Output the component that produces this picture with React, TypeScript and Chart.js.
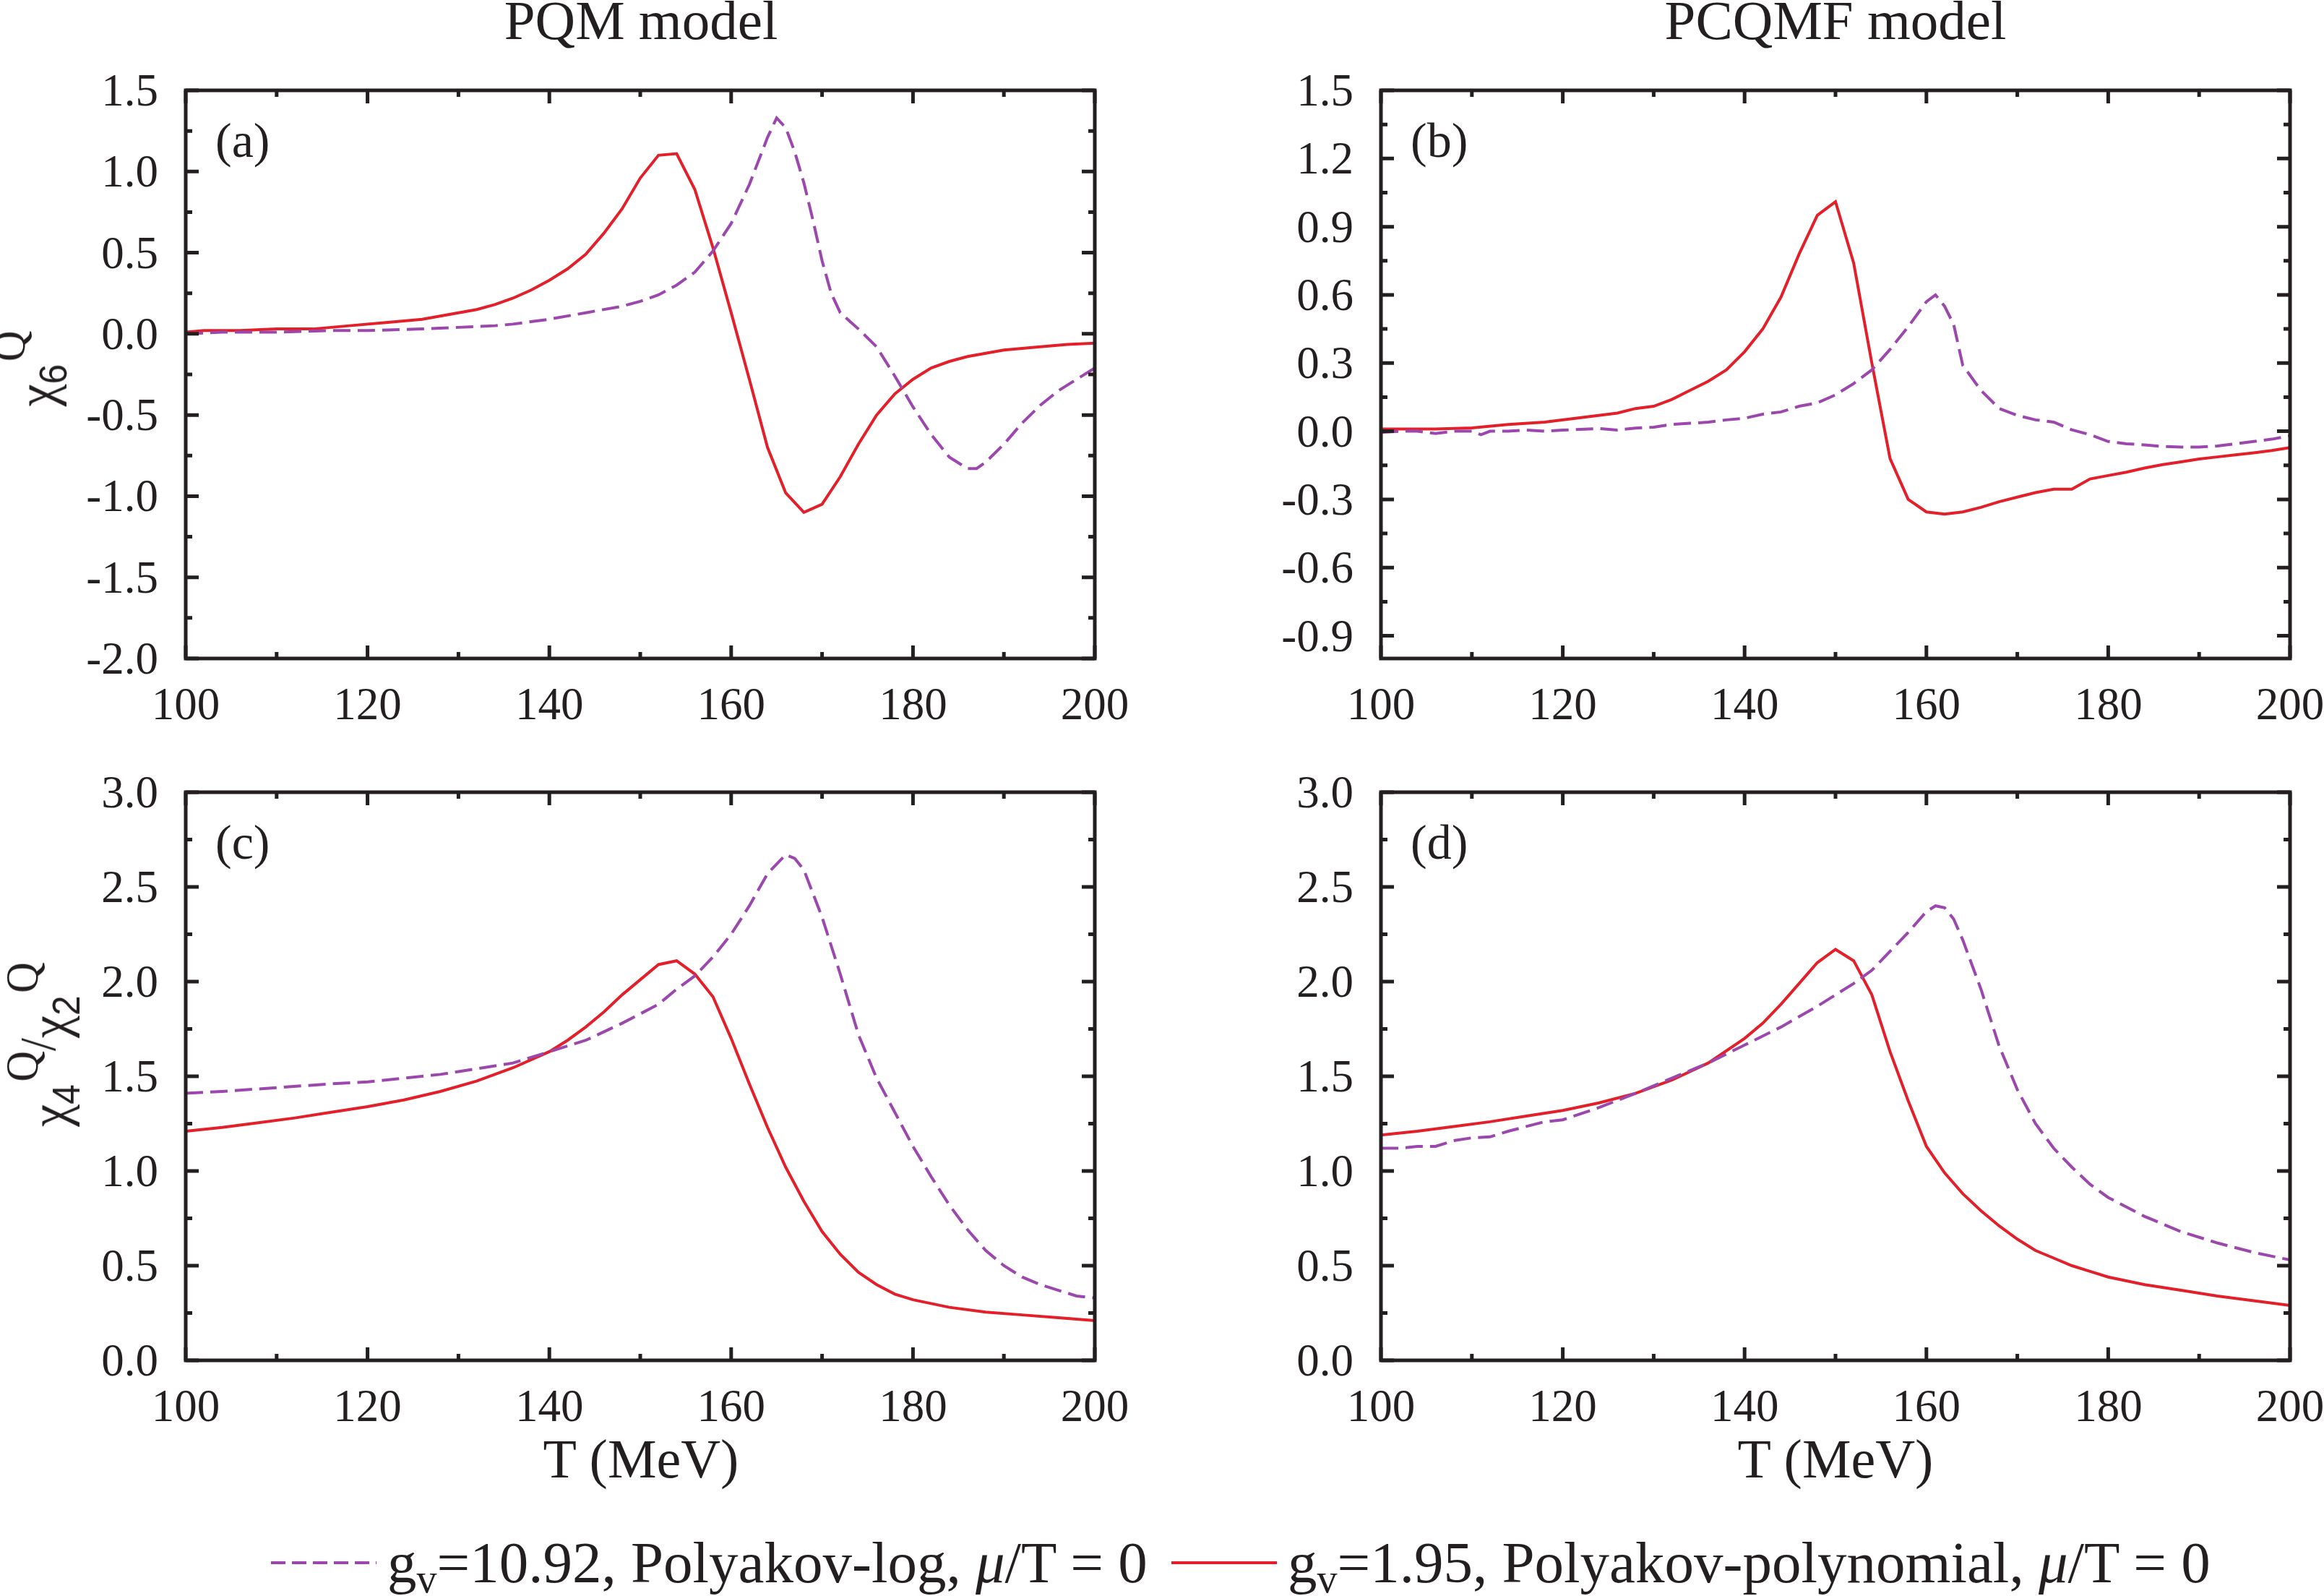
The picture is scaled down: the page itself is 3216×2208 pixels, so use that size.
import React, { useEffect, useRef } from 'react';
import Chart from 'chart.js/auto';

const RED = '#e3202a';
const PURPLE = '#9b47ad';
const INK = '#231f20';
const SERIF = 'Liberation Serif';
const SANS = 'Liberation Sans';

Chart.defaults.font.family = SERIF;
Chart.defaults.color = INK;

// x axis (T in MeV)
const xTicks = [100, 120, 140, 160, 180, 200];
const xMinor = [110, 130, 150, 170, 190];

// (a) PQM, chi6
const tRedA = [100, 102, 106, 110, 114, 118, 122, 126, 130, 132, 134, 136, 138, 140, 142, 144, 146, 148, 150, 152, 154, 156, 158, 160, 162, 164, 166, 168, 170, 172, 174, 176, 178, 180, 182, 184, 186, 188, 190, 194, 197, 200];
const redA = [0.01, 0.02, 0.02, 0.03, 0.03, 0.05, 0.07, 0.09, 0.13, 0.15, 0.18, 0.22, 0.27, 0.33, 0.40, 0.49, 0.62, 0.77, 0.96, 1.10, 1.11, 0.89, 0.53, 0.13, -0.28, -0.70, -0.98, -1.10, -1.05, -0.88, -0.68, -0.50, -0.37, -0.28, -0.21, -0.17, -0.14, -0.12, -0.10, -0.08, -0.065, -0.057];
const tPurpleA = [100, 104, 110, 116, 120, 126, 130, 134, 136, 140, 144, 148, 150, 152, 154, 156, 158, 160, 162, 164, 165, 166, 167, 168, 169, 170, 171, 172, 173, 174, 176, 178, 180, 182, 184, 186, 187, 188, 190, 192, 194, 196, 198, 200];
const purpleA = [0.0, 0.01, 0.01, 0.02, 0.02, 0.03, 0.04, 0.05, 0.06, 0.09, 0.13, 0.17, 0.20, 0.24, 0.30, 0.38, 0.51, 0.68, 0.92, 1.21, 1.33, 1.27, 1.12, 0.93, 0.70, 0.45, 0.25, 0.13, 0.08, 0.03, -0.08, -0.26, -0.45, -0.62, -0.76, -0.83, -0.83, -0.79, -0.68, -0.55, -0.44, -0.35, -0.28, -0.21];
const yTicksA = [-2.0, -1.5, -1.0, -0.5, 0.0, 0.5, 1.0, 1.5];
const yMinorA = [-1.75, -1.25, -0.75, -0.25, 0.25, 0.75, 1.25];

// (b) PCQMF, chi6
const tRedB = [100, 106, 110, 114, 118, 122, 126, 128, 130, 132, 134, 136, 138, 140, 142, 144, 146, 148, 150, 152, 154, 156, 158, 160, 162, 164, 166, 168, 170, 172, 174, 176, 178, 180, 182, 184, 186, 188, 190, 192, 194, 196, 198, 200];
const redB = [0.01, 0.01, 0.015, 0.03, 0.04, 0.06, 0.08, 0.10, 0.11, 0.14, 0.18, 0.22, 0.27, 0.35, 0.45, 0.59, 0.78, 0.95, 1.01, 0.74, 0.30, -0.12, -0.30, -0.355, -0.365, -0.355, -0.335, -0.31, -0.29, -0.27, -0.255, -0.255, -0.21, -0.195, -0.18, -0.162, -0.147, -0.135, -0.122, -0.113, -0.104, -0.095, -0.085, -0.072];
const tPurpleB = [100, 102, 104, 106, 108, 110, 111, 112, 114, 116, 118, 120, 124, 126, 128, 130, 132, 134, 136, 138, 140, 142, 144, 146, 148, 150, 152, 154, 156, 158, 160, 161, 162, 163, 164, 166, 168, 170, 172, 174, 176, 178, 180, 182, 184, 186, 188, 190, 192, 194, 196, 198, 200];
const purpleB = [-0.005, 0.0, 0.0, -0.01, 0.0, 0.0, -0.015, 0.0, 0.0, 0.005, 0.0, 0.005, 0.012, 0.005, 0.014, 0.018, 0.03, 0.035, 0.04, 0.05, 0.057, 0.075, 0.085, 0.11, 0.125, 0.16, 0.21, 0.27, 0.36, 0.46, 0.57, 0.60, 0.55, 0.47, 0.29, 0.18, 0.10, 0.07, 0.05, 0.04, 0.006, -0.015, -0.045, -0.055, -0.06, -0.067, -0.07, -0.07, -0.065, -0.055, -0.045, -0.035, -0.02];
const yTicksB = [-0.9, -0.6, -0.3, 0.0, 0.3, 0.6, 0.9, 1.2, 1.5];
const yMinorB = [-0.75, -0.45, -0.15, 0.15, 0.45, 0.75, 1.05, 1.35];

// (c) PQM, chi4/chi2
const tRedC = [100, 104, 108, 112, 116, 120, 124, 128, 132, 136, 140, 142, 144, 146, 148, 150, 152, 154, 156, 158, 160, 162, 164, 166, 168, 170, 172, 174, 176, 178, 180, 184, 188, 192, 196, 200];
const redC = [1.21, 1.23, 1.255, 1.28, 1.31, 1.34, 1.375, 1.42, 1.475, 1.545, 1.63, 1.69, 1.76, 1.84, 1.93, 2.01, 2.09, 2.11, 2.04, 1.92, 1.70, 1.46, 1.23, 1.02, 0.84, 0.68, 0.56, 0.465, 0.40, 0.35, 0.32, 0.28, 0.255, 0.24, 0.225, 0.21];
const tPurpleC = [100, 104, 110, 116, 120, 124, 128, 132, 136, 140, 144, 148, 150, 152, 154, 156, 158, 160, 162, 164, 166, 167, 168, 170, 172, 174, 176, 178, 180, 182, 184, 186, 188, 190, 192, 194, 196, 198, 200];
const purpleC = [1.41, 1.42, 1.44, 1.46, 1.47, 1.49, 1.51, 1.54, 1.57, 1.63, 1.69, 1.78, 1.83, 1.88, 1.96, 2.03, 2.13, 2.25, 2.40, 2.57, 2.67, 2.65, 2.59, 2.34, 2.04, 1.72, 1.49, 1.31, 1.13, 0.97, 0.82, 0.69, 0.58, 0.50, 0.44, 0.40, 0.37, 0.34, 0.33];
const yTicksCD = [0.0, 0.5, 1.0, 1.5, 2.0, 2.5, 3.0];
const yMinorCD = [0.25, 0.75, 1.25, 1.75, 2.25, 2.75];

// (d) PCQMF, chi4/chi2
const tRedD = [100, 104, 108, 112, 116, 120, 124, 128, 132, 136, 140, 142, 144, 146, 148, 150, 152, 154, 156, 158, 160, 162, 164, 166, 168, 170, 172, 174, 176, 178, 180, 184, 188, 192, 196, 200];
const redD = [1.19, 1.21, 1.235, 1.26, 1.29, 1.32, 1.36, 1.41, 1.48, 1.57, 1.70, 1.78, 1.88, 1.99, 2.10, 2.17, 2.11, 1.93, 1.63, 1.37, 1.13, 0.99, 0.88, 0.79, 0.71, 0.64, 0.58, 0.54, 0.50, 0.47, 0.44, 0.40, 0.37, 0.34, 0.315, 0.29];
const tPurpleD = [100, 102, 104, 106, 108, 110, 112, 114, 116, 118, 120, 124, 128, 132, 136, 140, 144, 148, 150, 152, 154, 156, 158, 160, 161, 162, 163, 164, 166, 168, 170, 172, 174, 176, 178, 180, 184, 188, 192, 196, 200];
const purpleD = [1.12, 1.12, 1.13, 1.13, 1.16, 1.175, 1.18, 1.21, 1.235, 1.26, 1.27, 1.335, 1.41, 1.49, 1.57, 1.665, 1.76, 1.87, 1.93, 1.99, 2.06, 2.16, 2.26, 2.37, 2.40, 2.39, 2.33, 2.22, 1.96, 1.66, 1.43, 1.25, 1.12, 1.02, 0.93, 0.86, 0.76, 0.68, 0.62, 0.57, 0.53];

const zip = (xs: number[], ys: number[]) => xs.map((x, i) => ({ x, y: ys[i] }));

type PanelProps = {
  letter: string;
  left: number;
  top: number;
  yMin: number;
  yMax: number;
  yTicks: number[];
  yMinor: number[];
  tRed: number[];
  red: number[];
  tPurple: number[];
  purple: number[];
};

const PLOT_W = 1258;
const PLOT_H = 786;
const AXIS_W = 210;
const AXIS_H = 110;
const PAD_TOP = 90;
const PAD_RIGHT = 90;
const DASH = [24, 10];
const TICK_FONT = '63px "Liberation Serif"';

const Panel: React.FC<PanelProps> = (p) => {
  const canvasRef = useRef<HTMLCanvasElement>(null);
  const chartRef = useRef<Chart | null>(null);

  useEffect(() => {
    if (!canvasRef.current) return;

    // box, inward ticks, tick labels and panel letter
    const frame = {
      id: 'frame',
      afterDatasetsDraw(chart: any) {
        const { ctx, chartArea: a, scales } = chart;
        const xs = scales.x;
        const ys = scales.y;
        ctx.save();
        ctx.strokeStyle = INK;
        ctx.lineWidth = 5;
        ctx.lineCap = 'butt';
        ctx.beginPath();
        const vTick = (v: number, len: number) => {
          const px = xs.getPixelForValue(v);
          ctx.moveTo(px, a.bottom);
          ctx.lineTo(px, a.bottom - len);
          ctx.moveTo(px, a.top);
          ctx.lineTo(px, a.top + len);
        };
        const hTick = (v: number, len: number) => {
          const py = ys.getPixelForValue(v);
          ctx.moveTo(a.left, py);
          ctx.lineTo(a.left + len, py);
          ctx.moveTo(a.right, py);
          ctx.lineTo(a.right - len, py);
        };
        xTicks.forEach((v) => vTick(v, 18));
        xMinor.forEach((v) => vTick(v, 9));
        p.yTicks.forEach((v) => hTick(v, 18));
        p.yMinor.forEach((v) => hTick(v, 9));
        ctx.stroke();
        ctx.strokeRect(a.left, a.top, a.right - a.left, a.bottom - a.top);

        ctx.fillStyle = INK;
        ctx.font = TICK_FONT;
        ctx.textBaseline = 'alphabetic';
        ctx.textAlign = 'center';
        xs.ticks.forEach((t: any) => {
          ctx.fillText(String(t.value), xs.getPixelForValue(t.value), a.bottom + 84);
        });
        ctx.textAlign = 'right';
        ys.ticks.forEach((t: any) => {
          ctx.fillText(Number(t.value).toFixed(1), a.left - 38, ys.getPixelForValue(t.value) + 21);
        });

        ctx.font = '68px "Liberation Serif"';
        ctx.textAlign = 'left';
        ctx.fillText(p.letter, a.left + 41, a.top + 92);
        ctx.restore();
      },
    };

    chartRef.current = new Chart(canvasRef.current, {
      type: 'line',
      data: {
        datasets: [
          {
            data: zip(p.tPurple, p.purple),
            borderColor: PURPLE,
            borderWidth: 4,
            borderDash: DASH,
            pointRadius: 0,
            tension: 0,
            fill: false,
          },
          {
            data: zip(p.tRed, p.red),
            borderColor: RED,
            borderWidth: 4,
            pointRadius: 0,
            tension: 0,
            fill: false,
          },
        ],
      },
      options: {
        animation: false,
        responsive: false,
        devicePixelRatio: 1,
        layout: { padding: { left: 0, top: PAD_TOP, right: PAD_RIGHT, bottom: 0 } },
        plugins: { legend: { display: false }, tooltip: { enabled: false } },
        scales: {
          x: {
            type: 'linear',
            min: 100,
            max: 200,
            grid: { display: false, drawTicks: false },
            border: { display: false },
            ticks: { display: false },
            afterBuildTicks: (s: any) => {
              s.ticks = xTicks.map((value) => ({ value }));
            },
            afterFit: (s: any) => {
              s.height = AXIS_H;
            },
          },
          y: {
            type: 'linear',
            min: p.yMin,
            max: p.yMax,
            grid: { display: false, drawTicks: false },
            border: { display: false },
            ticks: { display: false },
            afterBuildTicks: (s: any) => {
              s.ticks = p.yTicks.map((value) => ({ value }));
            },
            afterFit: (s: any) => {
              s.width = AXIS_W;
            },
          },
        },
      },
      plugins: [frame],
    });

    return () => {
      if (chartRef.current) {
        chartRef.current.destroy();
        chartRef.current = null;
      }
    };
  }, [p]);

  const w = AXIS_W + PLOT_W + PAD_RIGHT;
  const h = PAD_TOP + PLOT_H + AXIS_H;
  return (
    <canvas
      ref={canvasRef}
      width={w}
      height={h}
      style={{ position: 'absolute', left: p.left - AXIS_W, top: p.top - PAD_TOP, width: w, height: h }}
    />
  );
};

const panelA = { letter: '(a)', left: 257, top: 125, yMin: -2.0, yMax: 1.5, yTicks: yTicksA, yMinor: yMinorA, tRed: tRedA, red: redA, tPurple: tPurpleA, purple: purpleA };
const panelB = { letter: '(b)', left: 1911, top: 125, yMin: -1.0, yMax: 1.5, yTicks: yTicksB, yMinor: yMinorB, tRed: tRedB, red: redB, tPurple: tPurpleB, purple: purpleB };
const panelC = { letter: '(c)', left: 257, top: 1096, yMin: 0, yMax: 3.0, yTicks: yTicksCD, yMinor: yMinorCD, tRed: tRedC, red: redC, tPurple: tPurpleC, purple: purpleC };
const panelD = { letter: '(d)', left: 1911, top: 1096, yMin: 0, yMax: 3.0, yTicks: yTicksCD, yMinor: yMinorCD, tRed: tRedD, red: redD, tPurple: tPurpleD, purple: purpleD };

const Centered: React.FC<{ x: number; top: number; size: number; children: React.ReactNode }> = ({ x, top, size, children }) => (
  <div
    style={{
      position: 'absolute',
      left: x,
      top,
      transform: 'translateX(-50%)',
      fontFamily: SERIF,
      fontSize: size,
      lineHeight: 1,
      whiteSpace: 'nowrap',
      color: INK,
    }}
  >
    {children}
  </div>
);

// chi with a sans subscript digit and a serif superscript Q
const Chi: React.FC<{ sub: string }> = ({ sub }) => (
  <>
    <span style={{ fontFamily: SERIF, fontSize: 76 }}>χ</span>
    <span style={{ fontFamily: SANS, fontSize: 54, position: 'relative', top: 16 }}>{sub}</span>
    <span style={{ fontFamily: SERIF, fontSize: 64, position: 'relative', top: -42, marginLeft: 4 }}>Q</span>
  </>
);

const YLabel: React.FC<{ cx: number; cy: number; children: React.ReactNode }> = ({ cx, cy, children }) => (
  <div
    style={{
      position: 'absolute',
      left: cx,
      top: cy,
      transform: 'translate(-50%, -50%) rotate(-90deg) scaleX(0.92)',
      whiteSpace: 'nowrap',
      lineHeight: 1,
      color: INK,
    }}
  >
    {children}
  </div>
);

const LegendLine: React.FC<{ left: number; color: string; dash?: number[] }> = ({ left, color, dash }) => (
  <svg style={{ position: 'absolute', left, top: 2156 }} width={146} height={12}>
    <line x1={0} y1={6} x2={146} y2={6} stroke={color} strokeWidth={4} strokeDasharray={dash ? dash.join(' ') : undefined} />
  </svg>
);

const legendText = {
  position: 'absolute' as const,
  top: 2122,
  fontFamily: SERIF,
  fontSize: 81,
  lineHeight: 1,
  whiteSpace: 'nowrap' as const,
  color: INK,
};

const App: React.FC = () => (
  <div style={{ position: 'absolute', left: 0, top: 0, width: 3216, height: 2208, background: '#fff', overflow: 'hidden' }}>
    <Centered x={887} top={-10} size={77}>PQM model</Centered>
    <Centered x={2540} top={-10} size={77}>PCQMF model</Centered>

    <Panel {...panelA} />
    <Panel {...panelB} />
    <Panel {...panelC} />
    <Panel {...panelD} />

    <YLabel cx={50} cy={510}>
      <Chi sub="6" />
    </YLabel>
    <YLabel cx={68} cy={1445}>
      <Chi sub="4" />
      <span style={{ fontFamily: SERIF, fontSize: 70, position: 'relative', top: -18 }}>/</span>
      <Chi sub="2" />
    </YLabel>

    <Centered x={887} top={1980} size={76}>T (MeV)</Centered>
    <Centered x={2540} top={1980} size={76}>T (MeV)</Centered>

    <LegendLine left={375} color={PURPLE} dash={[20, 9]} />
    <div style={{ ...legendText, left: 536 }}>
      g<sub style={{ fontSize: 56, verticalAlign: -14 }}>v</sub>=10.92, Polyakov-log, <i>μ</i>/T = 0
    </div>
    <LegendLine left={1621} color={RED} />
    <div style={{ ...legendText, left: 1782 }}>
      g<sub style={{ fontSize: 56, verticalAlign: -14 }}>v</sub>=1.95, Polyakov-polynomial, <i>μ</i>/T = 0
    </div>
  </div>
);

export default App;
